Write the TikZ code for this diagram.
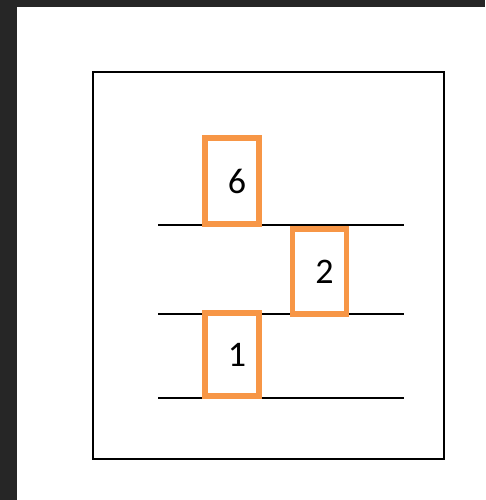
\documentclass[tikz,border=0pt]{standalone}
\usepackage{fontspec}
\setmainfont{Carlito}
\usepackage{tikz}
\usetikzlibrary{positioning}
\definecolor{FrameDark}{RGB}{38, 38, 38}
\definecolor{SlotOrange}{RGB}{247, 150, 70}
\tikzset{
    slotbox/.style={rectangle, draw=SlotOrange, line width=5.5pt, minimum width=54pt, minimum height=86pt, inner sep=0pt, font=\fontsize{36}{40}\selectfont},
    shelf/.style={line width=1.5pt, black}
}

\begin{document}
\begin{tikzpicture}[x=1pt, y=-1pt]
    \useasboundingbox (0,0) rectangle (485,500);
    \fill[FrameDark] (0,0) rectangle (485,7);
    \fill[FrameDark] (0,0) rectangle (17,500);
    \draw[line width=1.4pt] (93,72) rectangle (444,459);
    % shelves
    \coordinate (s1l) at (158,225); \coordinate (s1r) at (404,225);
    \coordinate (s2l) at (158,314); \coordinate (s2r) at (404,314);
    \coordinate (s3l) at (158,398); \coordinate (s3r) at (404,398);
    \draw[shelf] (s1l) -- (s1r);
    \draw[shelf] (s2l) -- (s2r);
    \draw[shelf] (s3l) -- (s3r);
    % boxes
    \node[slotbox, fill=white] (six) at (232,181) {\hspace{10pt}6};
    \node[slotbox, fill=white, minimum height=85pt] (two) at (319.5,271.5) {\hspace{10pt}2};
    \node[slotbox, fill=white, minimum height=83pt] (one) at (232,354.5) {\hspace{10pt}1};
\end{tikzpicture}
\end{document}
